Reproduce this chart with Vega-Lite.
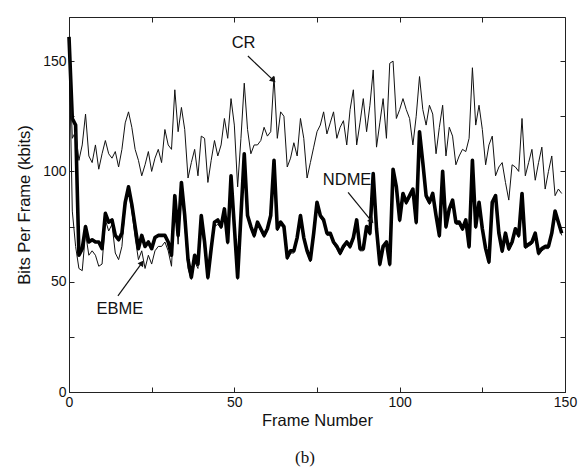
{
 "$schema": "https://vega.github.io/schema/vega-lite/v6.json",
 "width": 496, "height": 375,
 "autosize": "none",
 "padding": {"left": 69, "top": 17, "right": 22, "bottom": 76},
 "background": "white",
 "config": {
  "font": "Liberation Sans",
  "view": {"stroke": "#222", "strokeWidth": 1},
  "axis": {"domainColor": "#222", "tickColor": "#222", "labelColor": "#111", "titleColor": "#111", "grid": false, "labelFontSize": 14, "titleFontSize": 16.5, "titleFontWeight": "normal", "tickSize": -5, "labelFlush": false}
 },
 "title": {"text": "(b)", "orient": "bottom", "font": "Liberation Serif", "fontSize": 17, "fontWeight": "normal", "color": "#111", "offset": 21, "dx": -12},
 "datasets": {
  "frames": [
   {"f":0,"CR":160,"NDME":161,"EBME":160},{"f":1,"CR":115,"NDME":124,"EBME":82},{"f":2,"CR":118,"NDME":121,"EBME":66},{"f":3,"CR":105,"NDME":62,"EBME":56},{"f":4,"CR":112,"NDME":65,"EBME":55},{"f":5,"CR":126,"NDME":75,"EBME":72},{"f":6,"CR":107,"NDME":68,"EBME":62},{"f":7,"CR":104,"NDME":69,"EBME":64},{"f":8,"CR":112,"NDME":68,"EBME":62},{"f":9,"CR":101,"NDME":68,"EBME":57},
   {"f":10,"CR":108,"NDME":65,"EBME":58},{"f":11,"CR":114,"NDME":81,"EBME":78},{"f":12,"CR":108,"NDME":77,"EBME":73},{"f":13,"CR":106,"NDME":78,"EBME":76},{"f":14,"CR":109,"NDME":71,"EBME":63},{"f":15,"CR":102,"NDME":69,"EBME":60},{"f":16,"CR":110,"NDME":72,"EBME":66},{"f":17,"CR":122,"NDME":86,"EBME":84},{"f":18,"CR":127,"NDME":93,"EBME":91},{"f":19,"CR":120,"NDME":85,"EBME":82},
   {"f":20,"CR":110,"NDME":75,"EBME":70},{"f":21,"CR":105,"NDME":65,"EBME":60},{"f":22,"CR":98,"NDME":71,"EBME":64},{"f":23,"CR":103,"NDME":66,"EBME":56},{"f":24,"CR":109,"NDME":68,"EBME":62},{"f":25,"CR":100,"NDME":65,"EBME":58},{"f":26,"CR":106,"NDME":70,"EBME":64},{"f":27,"CR":110,"NDME":71,"EBME":66},{"f":28,"CR":104,"NDME":71,"EBME":66},{"f":29,"CR":119,"NDME":71,"EBME":68},
   {"f":30,"CR":112,"NDME":68,"EBME":64},{"f":31,"CR":110,"NDME":62,"EBME":57},{"f":32,"CR":137,"NDME":89,"EBME":86},{"f":33,"CR":118,"NDME":71,"EBME":67},{"f":34,"CR":129,"NDME":95,"EBME":92},{"f":35,"CR":119,"NDME":80,"EBME":76},{"f":36,"CR":97,"NDME":60,"EBME":56},{"f":37,"CR":104,"NDME":52,"EBME":51},{"f":38,"CR":110,"NDME":62,"EBME":59},{"f":39,"CR":98,"NDME":58,"EBME":56},
   {"f":40,"CR":116,"NDME":80,"EBME":77},{"f":41,"CR":115,"NDME":68,"EBME":65},{"f":42,"CR":95,"NDME":52,"EBME":51},{"f":43,"CR":105,"NDME":65,"EBME":63},{"f":44,"CR":114,"NDME":77,"EBME":75},{"f":45,"CR":107,"NDME":78,"EBME":76},{"f":46,"CR":112,"NDME":75,"EBME":74},{"f":47,"CR":124,"NDME":83,"EBME":82},{"f":48,"CR":115,"NDME":68,"EBME":67},{"f":49,"CR":133,"NDME":98,"EBME":97},
   {"f":50,"CR":121,"NDME":75,"EBME":74},{"f":51,"CR":93,"NDME":52,"EBME":51},{"f":52,"CR":115,"NDME":80,"EBME":79},{"f":53,"CR":140,"NDME":108,"EBME":107},{"f":54,"CR":119,"NDME":80,"EBME":79},{"f":55,"CR":108,"NDME":75,"EBME":74},{"f":56,"CR":112,"NDME":71,"EBME":70},{"f":57,"CR":112,"NDME":77,"EBME":76},{"f":58,"CR":114,"NDME":74,"EBME":73},{"f":59,"CR":120,"NDME":71,"EBME":70},
   {"f":60,"CR":116,"NDME":74,"EBME":73},{"f":61,"CR":118,"NDME":80,"EBME":79},{"f":62,"CR":143,"NDME":105,"EBME":104},{"f":63,"CR":115,"NDME":74,"EBME":73},{"f":64,"CR":127,"NDME":77,"EBME":76},{"f":65,"CR":125,"NDME":75,"EBME":74},{"f":66,"CR":102,"NDME":61,"EBME":60},{"f":67,"CR":106,"NDME":64,"EBME":63},{"f":68,"CR":113,"NDME":64,"EBME":63},{"f":69,"CR":107,"NDME":70,"EBME":69},
   {"f":70,"CR":124,"NDME":80,"EBME":79},{"f":71,"CR":115,"NDME":70,"EBME":69},{"f":72,"CR":97,"NDME":64,"EBME":63},{"f":73,"CR":104,"NDME":60,"EBME":59},{"f":74,"CR":111,"NDME":72,"EBME":71},{"f":75,"CR":118,"NDME":86,"EBME":85},{"f":76,"CR":121,"NDME":80,"EBME":79},{"f":77,"CR":127,"NDME":78,"EBME":77},{"f":78,"CR":117,"NDME":72,"EBME":71},{"f":79,"CR":122,"NDME":72,"EBME":71},
   {"f":80,"CR":127,"NDME":68,"EBME":67},{"f":81,"CR":115,"NDME":66,"EBME":65},{"f":82,"CR":120,"NDME":63,"EBME":62},{"f":83,"CR":123,"NDME":66,"EBME":65},{"f":84,"CR":112,"NDME":68,"EBME":67},{"f":85,"CR":128,"NDME":66,"EBME":65},{"f":86,"CR":137,"NDME":70,"EBME":69},{"f":87,"CR":112,"NDME":78,"EBME":77},{"f":88,"CR":122,"NDME":65,"EBME":64},{"f":89,"CR":133,"NDME":65,"EBME":64},
   {"f":90,"CR":118,"NDME":75,"EBME":74},{"f":91,"CR":130,"NDME":72,"EBME":71},{"f":92,"CR":146,"NDME":99,"EBME":98},{"f":93,"CR":111,"NDME":74,"EBME":73},{"f":94,"CR":122,"NDME":58,"EBME":57},{"f":95,"CR":133,"NDME":66,"EBME":65},{"f":96,"CR":115,"NDME":68,"EBME":67},{"f":97,"CR":149,"NDME":58,"EBME":57},{"f":98,"CR":150,"NDME":101,"EBME":100},{"f":99,"CR":124,"NDME":93,"EBME":92},
   {"f":100,"CR":128,"NDME":78,"EBME":77},{"f":101,"CR":133,"NDME":90,"EBME":89},{"f":102,"CR":128,"NDME":86,"EBME":85},{"f":103,"CR":124,"NDME":89,"EBME":88},{"f":104,"CR":112,"NDME":92,"EBME":91},{"f":105,"CR":125,"NDME":77,"EBME":76},{"f":106,"CR":143,"NDME":118,"EBME":117},{"f":107,"CR":128,"NDME":104,"EBME":103},{"f":108,"CR":121,"NDME":89,"EBME":88},{"f":109,"CR":130,"NDME":86,"EBME":85},
   {"f":110,"CR":126,"NDME":90,"EBME":89},{"f":111,"CR":108,"NDME":80,"EBME":79},{"f":112,"CR":120,"NDME":71,"EBME":70},{"f":113,"CR":130,"NDME":100,"EBME":99},{"f":114,"CR":107,"NDME":75,"EBME":74},{"f":115,"CR":120,"NDME":83,"EBME":82},{"f":116,"CR":116,"NDME":87,"EBME":86},{"f":117,"CR":103,"NDME":77,"EBME":76},{"f":118,"CR":107,"NDME":77,"EBME":76},{"f":119,"CR":110,"NDME":74,"EBME":73},
   {"f":120,"CR":109,"NDME":78,"EBME":77},{"f":121,"CR":115,"NDME":66,"EBME":65},{"f":122,"CR":147,"NDME":105,"EBME":104},{"f":123,"CR":121,"NDME":75,"EBME":74},{"f":124,"CR":130,"NDME":86,"EBME":85},{"f":125,"CR":119,"NDME":74,"EBME":73},{"f":126,"CR":103,"NDME":65,"EBME":64},{"f":127,"CR":112,"NDME":59,"EBME":58},{"f":128,"CR":116,"NDME":86,"EBME":85},{"f":129,"CR":98,"NDME":89,"EBME":88},
   {"f":130,"CR":102,"NDME":72,"EBME":71},{"f":131,"CR":104,"NDME":64,"EBME":63},{"f":132,"CR":95,"NDME":72,"EBME":71},{"f":133,"CR":87,"NDME":65,"EBME":64},{"f":134,"CR":103,"NDME":68,"EBME":67},{"f":135,"CR":102,"NDME":74,"EBME":73},{"f":136,"CR":100,"NDME":71,"EBME":70},{"f":137,"CR":124,"NDME":90,"EBME":89},{"f":138,"CR":98,"NDME":66,"EBME":65},{"f":139,"CR":104,"NDME":67,"EBME":66},
   {"f":140,"CR":110,"NDME":68,"EBME":67},{"f":141,"CR":96,"NDME":72,"EBME":71},{"f":142,"CR":104,"NDME":63,"EBME":62},{"f":143,"CR":111,"NDME":65,"EBME":64},{"f":144,"CR":92,"NDME":66,"EBME":65},{"f":145,"CR":100,"NDME":66,"EBME":65},{"f":146,"CR":107,"NDME":72,"EBME":71},{"f":147,"CR":89,"NDME":82,"EBME":81},{"f":148,"CR":92,"NDME":77,"EBME":76},{"f":149,"CR":90,"NDME":72,"EBME":71}
  ]
 },
 "layer": [
  {
   "data": {"name": "frames"},
   "mark": {"type": "line", "color": "#111", "strokeWidth": 1, "strokeJoin": "round"},
   "encoding": {
    "x": {"field": "f", "type": "quantitative", "scale": {"domain": [0, 150], "nice": false}, "axis": {"orient": "bottom", "values": [0,25,50,75,100,125,150], "labelExpr": "datum.value % 50 == 0 ? datum.label : ''", "title": "Frame Number", "labelPadding": 8, "titlePadding": 3}},
    "y": {"field": "EBME", "type": "quantitative", "scale": {"domain": [0, 170], "nice": false}, "axis": {"orient": "left", "values": [0,25,50,75,100,125,150], "labelExpr": "datum.value % 50 == 0 ? datum.label : ''", "title": "Bits Per Frame (kbits)", "labelPadding": 8, "titlePadding": 10}}
   }
  },
  {
   "data": {"name": "frames"},
   "mark": {"type": "line", "color": "#000", "strokeWidth": 3.6, "strokeJoin": "round"},
   "encoding": {
    "x": {"field": "f", "type": "quantitative", "axis": null},
    "y": {"field": "NDME", "type": "quantitative", "axis": null}
   }
  },
  {
   "data": {"name": "frames"},
   "mark": {"type": "line", "color": "#111", "strokeWidth": 1, "strokeJoin": "round"},
   "encoding": {
    "x": {"field": "f", "type": "quantitative", "axis": {"orient": "top", "values": [0,25,50,75,100,125,150], "labels": false, "title": null, "domain": false}},
    "y": {"field": "CR", "type": "quantitative", "axis": {"orient": "right", "values": [0,25,50,75,100,125,150], "labels": false, "title": null, "domain": false}}
   }
  },
  {
   "data": {"values": [
    {"label": "CR", "x": 52.8, "y": 158.2},
    {"label": "NDME", "x": 84.1, "y": 95.9},
    {"label": "EBME", "x": 15.4, "y": 37.7}
   ]},
   "mark": {"type": "text", "fontSize": 16.5, "color": "#111", "align": "center", "baseline": "middle"},
   "encoding": {
    "x": {"field": "x", "type": "quantitative", "axis": null},
    "y": {"field": "y", "type": "quantitative", "axis": null},
    "text": {"field": "label"}
   }
  },
  {
   "data": {"values": [
    {"x": 54.1, "y": 152.3, "x2": 61.6, "y2": 141.6},
    {"x": 84.4, "y": 90.5, "x2": 91.3, "y2": 77.8},
    {"x": 14.8, "y": 43.6, "x2": 21.9, "y2": 58.2}
   ]},
   "mark": {"type": "rule", "color": "#111", "strokeWidth": 1.2},
   "encoding": {
    "x": {"field": "x", "type": "quantitative", "axis": null},
    "y": {"field": "y", "type": "quantitative", "axis": null},
    "x2": {"field": "x2"},
    "y2": {"field": "y2"}
   }
  },
  {
   "data": {"values": [{"x": 61.6, "y": 141.6}]},
   "mark": {"type": "point", "shape": "triangle", "filled": true, "color": "#111", "size": 45, "angle": 133, "opacity": 1},
   "encoding": {"x": {"field": "x", "type": "quantitative", "axis": null}, "y": {"field": "y", "type": "quantitative", "axis": null}}
  },
  {
   "data": {"values": [{"x": 91.3, "y": 77.8}]},
   "mark": {"type": "point", "shape": "triangle", "filled": true, "color": "#111", "size": 45, "angle": 140, "opacity": 1},
   "encoding": {"x": {"field": "x", "type": "quantitative", "axis": null}, "y": {"field": "y", "type": "quantitative", "axis": null}}
  },
  {
   "data": {"values": [{"x": 21.9, "y": 58.2}]},
   "mark": {"type": "point", "shape": "triangle", "filled": true, "color": "#111", "size": 45, "angle": 36, "opacity": 1},
   "encoding": {"x": {"field": "x", "type": "quantitative", "axis": null}, "y": {"field": "y", "type": "quantitative", "axis": null}}
  }
 ],
 "resolve": {"axis": {"x": "independent", "y": "independent"}}
}
